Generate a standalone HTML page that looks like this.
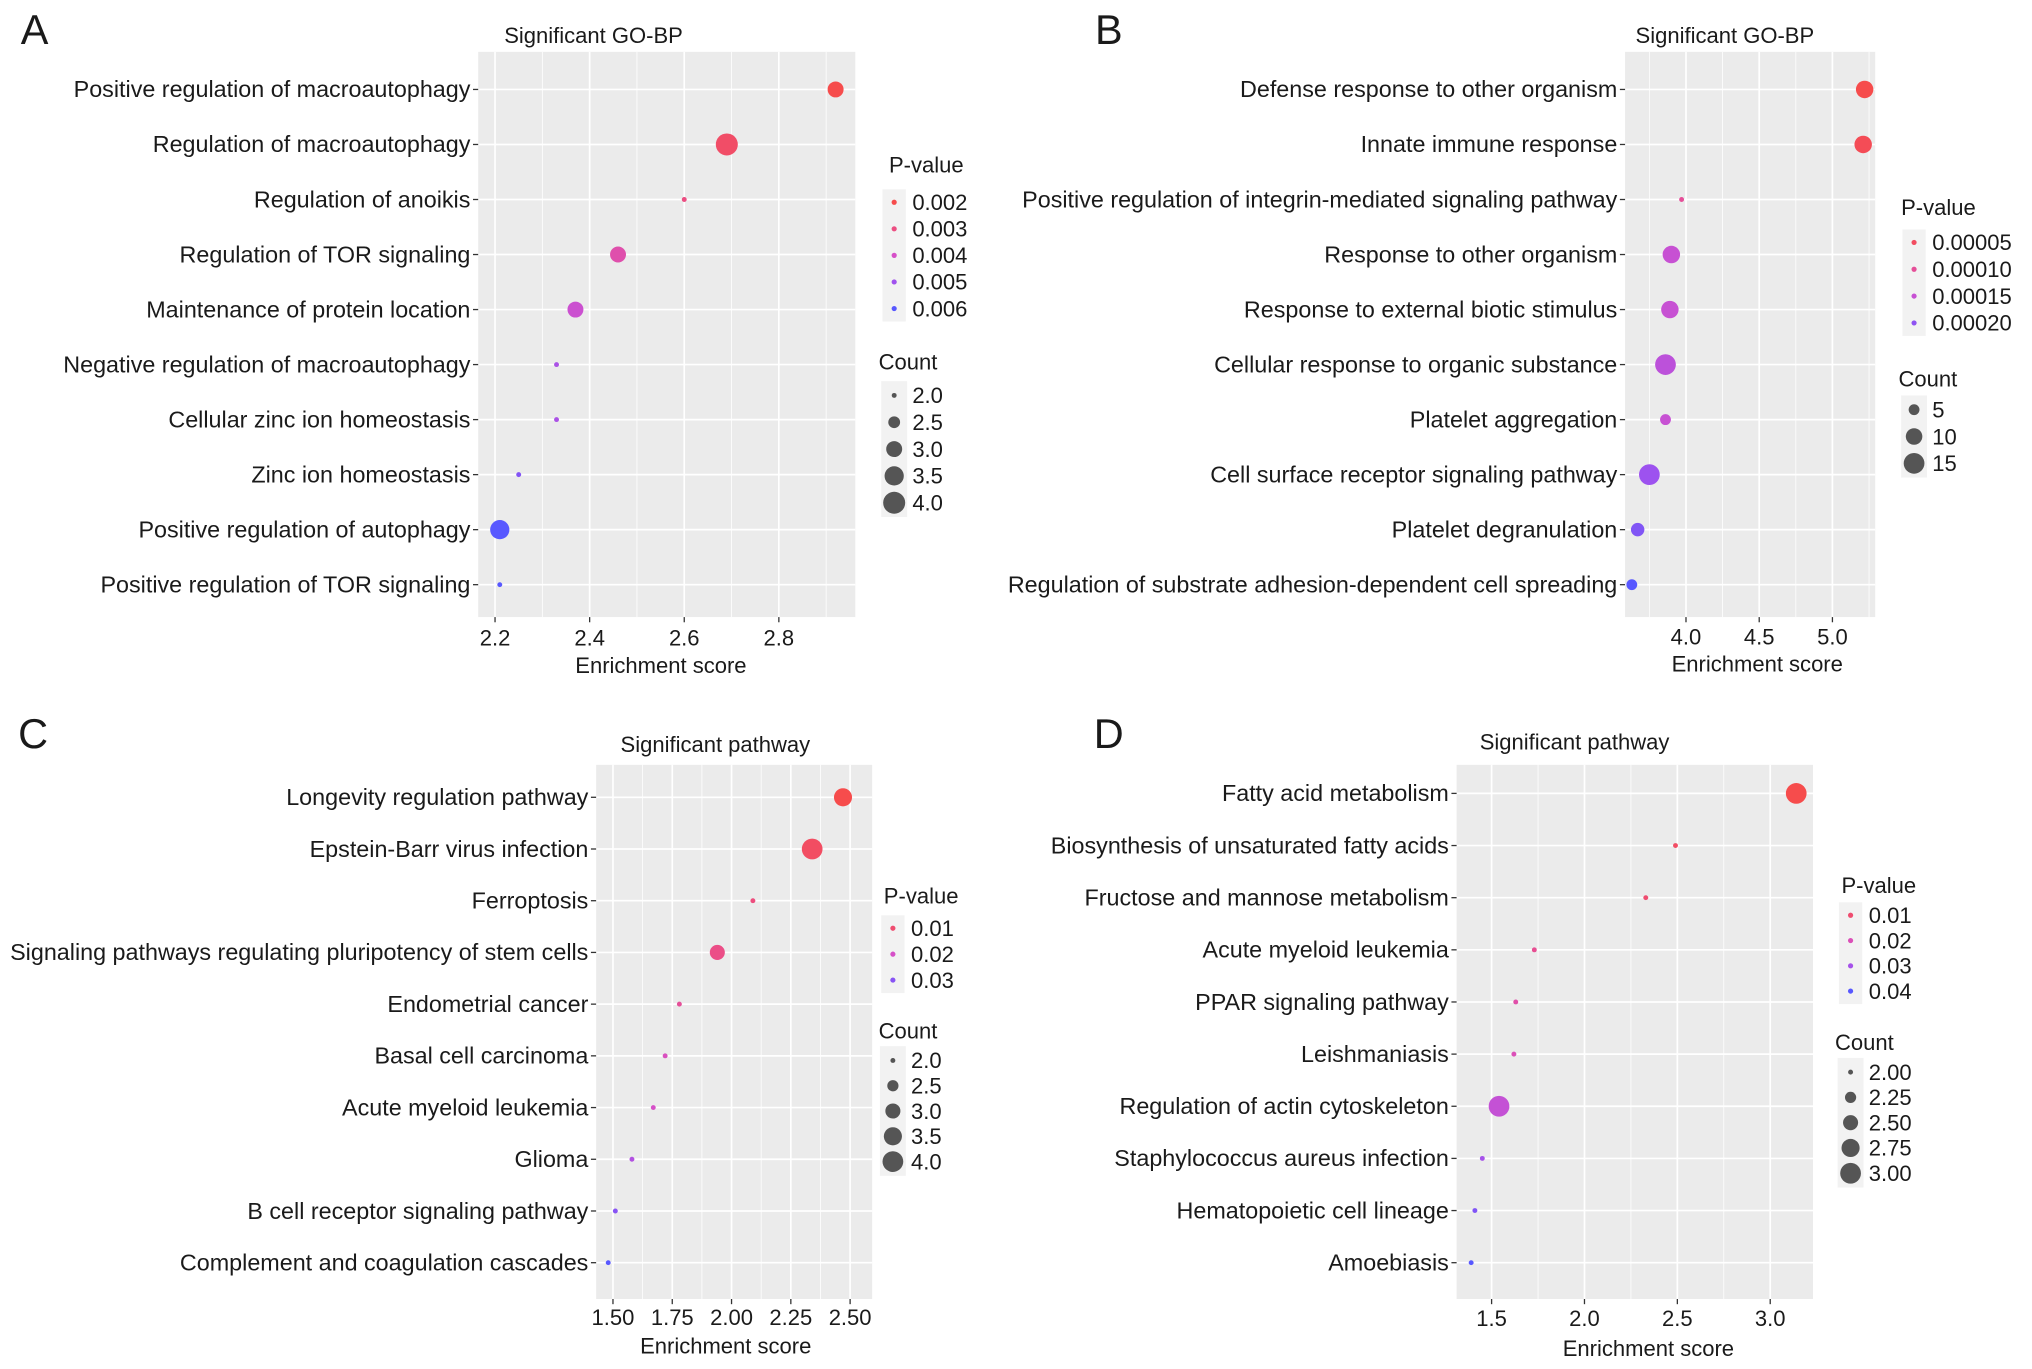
<!DOCTYPE html>
<html><head><meta charset="utf-8"><style>
html,body{margin:0;padding:0;background:#fff}
svg{display:block}
text{font-family:"Liberation Sans",Arial,sans-serif;fill:#1a1a1a}
</style></head><body>
<svg id="fig" width="2032" height="1369" viewBox="0 0 1568 1056" preserveAspectRatio="none" xmlns="http://www.w3.org/2000/svg"></svg>
<script>
// Panel A data
const aTerms=["Positive regulation of macroautophagy","Regulation of macroautophagy","Regulation of anoikis","Regulation of TOR signaling","Maintenance of protein location","Negative regulation of macroautophagy","Cellular zinc ion homeostasis","Zinc ion homeostasis","Positive regulation of autophagy","Positive regulation of TOR signaling"];
const aScore=[2.92,2.69,2.60,2.46,2.37,2.33,2.33,2.25,2.21,2.21];
const aCount=[3,4,2,3,3,2,2,2,3.5,2];
const aP=[0.0018,0.0025,0.003,0.0036,0.0042,0.0048,0.0048,0.0054,0.0062,0.006];
const aXTicks=[2.2,2.4,2.6,2.8];
const aPLeg=["0.002","0.003","0.004","0.005","0.006"];
const aCLeg=["2.0","2.5","3.0","3.5","4.0"];
// Panel B data
const bTerms=["Defense response to other organism","Innate immune response","Positive regulation of integrin-mediated signaling pathway","Response to other organism","Response to external biotic stimulus","Cellular response to organic substance","Platelet aggregation","Cell surface receptor signaling pathway","Platelet degranulation","Regulation of substrate adhesion-dependent cell spreading"];
const bScore=[5.22,5.21,3.97,3.90,3.89,3.86,3.86,3.75,3.67,3.63];
const bCount=[11,11,2,11,11,15,5,15,7,5];
const bP=[0.00003,0.00004,0.0001,0.00015,0.00015,0.00016,0.00015,0.00019,0.00021,0.00024];
const bXTicks=[4.0,4.5,5.0];
const bPLeg=["0.00005","0.00010","0.00015","0.00020"];
const bCLeg=["5","10","15"];
// Panel C data
const cTerms=["Longevity regulation pathway","Epstein-Barr virus infection","Ferroptosis","Signaling pathways regulating pluripotency of stem cells","Endometrial cancer","Basal cell carcinoma","Acute myeloid leukemia","Glioma","B cell receptor signaling pathway","Complement and coagulation cascades"];
const cScore=[2.47,2.34,2.09,1.94,1.78,1.72,1.67,1.58,1.51,1.48];
const cCount=[3.5,4,2,3,2,2,2,2,2,2];
const cP=[0.005,0.008,0.012,0.013,0.015,0.019,0.02,0.025,0.03,0.035];
const cXTicks=[1.50,1.75,2.00,2.25,2.50];
const cPLeg=["0.01","0.02","0.03"];
const cCLeg=["2.0","2.5","3.0","3.5","4.0"];
// Panel D data
const dTerms=["Fatty acid metabolism","Biosynthesis of unsaturated fatty acids","Fructose and mannose metabolism","Acute myeloid leukemia","PPAR signaling pathway","Leishmaniasis","Regulation of actin cytoskeleton","Staphylococcus aureus infection","Hematopoietic cell lineage","Amoebiasis"];
const dScore=[3.14,2.49,2.33,1.73,1.63,1.62,1.54,1.45,1.41,1.39];
const dCount=[3,2,2,2,2,2,3,2,2,2];
const dP=[0.004,0.008,0.01,0.015,0.018,0.02,0.025,0.03,0.035,0.04];
const dXTicks=[1.5,2.0,2.5,3.0];
const dPLeg=["0.01","0.02","0.03","0.04"];
const dCLeg=["2.00","2.25","2.50","2.75","3.00"];

const NS="http://www.w3.org/2000/svg";
const svg=document.getElementById('fig');
function mk(tag,attrs,parent){const e=document.createElementNS(NS,tag);for(const k in attrs)e.setAttribute(k,attrs[k]);(parent||svg).appendChild(e);return e;}
const stops=[[246,76,76],[236,78,130],[214,80,200],[160,82,238],[88,88,255]];
function col(t){t=Math.max(0,Math.min(1,t));const s=t*(stops.length-1);const i=Math.min(stops.length-2,Math.floor(s));const f=s-i;const a=stops[i],b=stops[i+1];return `rgb(${Math.round(a[0]+(b[0]-a[0])*f)},${Math.round(a[1]+(b[1]-a[1])*f)},${Math.round(a[2]+(b[2]-a[2])*f)})`;}

function panel(cfg){
  const g=mk('g',{});
  
  
  const L=mk('text',{x:cfg.letter[0],y:cfg.letter[1],'font-size':32},g);L.textContent=cfg.letterText;
  
  const p=cfg.plot;
  const bg=mk('rect',{x:p.x0,y:p.y0,width:p.x1-p.x0,height:p.y1-p.y0,fill:'#EBEBEB'},g);
  
  const xs=v=>cfg.xpx[0]+(v-cfg.xval[0])/(cfg.xval[1]-cfg.xval[0])*(cfg.xpx[1]-cfg.xpx[0]);
  const ys=i=>cfg.ypx[0]+i*(cfg.ypx[1]-cfg.ypx[0])/(cfg.terms.length-1);
  const tk=cfg.xticks,step=tk[1]-tk[0];
  for(let v=tk[0]-step/2;v<=tk[tk.length-1]+step;v+=step){const X=xs(v);if(X>p.x0&&X<p.x1)mk('line',{x1:X,x2:X,y1:p.y0,y2:p.y1,stroke:'#fff','stroke-width':0.6},g);}
  tk.forEach((v,k)=>{const X=xs(v);mk('line',{x1:X,x2:X,y1:p.y0,y2:p.y1,stroke:'#fff','stroke-width':1.3},g);
    mk('line',{x1:X,x2:X,y1:p.y1,y2:p.y1+4,stroke:'#333','stroke-width':1},g);
    const t=mk('text',{x:X,y:cfg.tickY,'font-size':17,'text-anchor':'middle',fill:'#333'},g);t.textContent=cfg.tickLabels?cfg.tickLabels[k]:String(v);
    });
  cfg.terms.forEach((term,i)=>{const Y=ys(i);
    mk('line',{x1:p.x0,x2:p.x1,y1:Y,y2:Y,stroke:'#fff','stroke-width':1.3},g);
    mk('line',{x1:p.x0-4,x2:p.x0,y1:Y,y2:Y,stroke:'#333','stroke-width':1},g);
    const t=mk('text',{x:p.x0-6,y:Y+6,'font-size':18,'text-anchor':'end',fill:'#222'},g);t.textContent=term;
    });
  const cl=cfg.cMin,ch=cfg.cMax;
  const rad=c=>Math.sqrt(3.6+Math.max(0,(c-cl)/(ch-cl))*(cfg.rmax*cfg.rmax-3.6));
  const pl=cfg.pRange[0],ph=cfg.pRange[1];
  cfg.terms.forEach((term,i)=>{
    const c=mk('circle',{cx:xs(cfg.score[i]),cy:ys(i),r:rad(cfg.count[i]),fill:col((cfg.pv[i]-pl)/(ph-pl))},g);
    });
  const tt=mk('text',{x:cfg.title[0],y:cfg.title[1],'font-size':17,'text-anchor':'middle',fill:'#222'},g);tt.textContent=cfg.titleText;
  
  const xt=mk('text',{x:cfg.xtitle[0],y:cfg.xtitle[1],'font-size':17,'text-anchor':'middle',fill:'#222'},g);xt.textContent='Enrichment score';
  
  const lg=cfg.leg;
  const pt=mk('text',{x:lg.px,y:lg.py,'font-size':17,fill:'#222'},g);pt.textContent='P-value';
  
  const n=cfg.pLeg.length;
  mk('rect',{x:lg.kx-9,y:lg.py0-10,width:18,height:(n-1)*lg.pstep+20,fill:'#F2F2F2'},g);
  cfg.pLeg.forEach((s,k)=>{const Y=lg.py0+k*lg.pstep;
    const c=mk('circle',{cx:lg.kx,cy:Y,r:2,fill:col((parseFloat(s)-pl)/(ph-pl))},g);
    const t=mk('text',{x:lg.kx+14,y:Y+6,'font-size':17,fill:'#222'},g);t.textContent=s;});
  const ct=mk('text',{x:lg.cx,y:lg.cy,'font-size':17,fill:'#222'},g);ct.textContent='Count';
  
  const m=cfg.cLeg.length;
  mk('rect',{x:lg.kx2-10,y:lg.cy0-11,width:20,height:(m-1)*lg.cstep+22,fill:'#F2F2F2'},g);
  cfg.cLeg.forEach((s,k)=>{const Y=lg.cy0+k*lg.cstep;
    const c=mk('circle',{cx:lg.kx2,cy:Y,r:rad(parseFloat(s)),fill:'#555'},g);
    const t=mk('text',{x:lg.kx2+14,y:Y+6,'font-size':17,fill:'#222'},g);t.textContent=s;});
}
panel({name:'panel-a',letterText:'A',letter:[16,34],plot:{x0:369,x1:660,y0:40,y1:476},xval:[2.2,2.8],xpx:[382,601],ypx:[69,451],tickY:498,
  terms:aTerms,score:aScore,count:aCount,pv:aP,xticks:aXTicks,pRange:[0.002,0.006],pLeg:aPLeg,cLeg:aCLeg,cMin:2,cMax:4,rmax:8.5,
  title:[458,33],titleText:'Significant GO-BP',xtitle:[510,519],
  leg:{px:686,py:133,kx:690,py0:156,pstep:20.5,cx:678,cy:285,kx2:690,cy0:305,cstep:20.7}});
panel({name:'panel-b',letterText:'B',letter:[845,34],plot:{x0:1254,x1:1447,y0:40,y1:476},xval:[4.0,5.0],xpx:[1301,1414],ypx:[69,451],tickY:497,
  terms:bTerms,score:bScore,count:bCount,pv:bP,xticks:bXTicks,tickLabels:["4.0","4.5","5.0"],pRange:[0.00003,0.00024],pLeg:bPLeg,cLeg:bCLeg,cMin:2,cMax:15,rmax:8,
  title:[1331,33],titleText:'Significant GO-BP',xtitle:[1356,518],
  leg:{px:1467,py:166,kx:1477,py0:187,pstep:20.7,cx:1465,cy:298,kx2:1477,cy0:316,cstep:20.7}});
panel({name:'panel-c',letterText:'C',letter:[14,577],plot:{x0:460,x1:673,y0:590,y1:1002},xval:[1.5,2.5],xpx:[473,656],ypx:[615,974],tickY:1022,
  terms:cTerms,score:cScore,count:cCount,pv:cP,xticks:cXTicks,tickLabels:["1.50","1.75","2.00","2.25","2.50"],pRange:[0.005,0.035],pLeg:cPLeg,cLeg:cCLeg,cMin:2,cMax:4,rmax:8,
  title:[552,580],titleText:'Significant pathway',xtitle:[560,1044],
  leg:{px:682,py:697,kx:689,py0:716,pstep:20,cx:678,cy:801,kx2:689,cy0:818,cstep:19.5}});
panel({name:'panel-d',letterText:'D',letter:[844,577],plot:{x0:1124,x1:1399,y0:590,y1:1002},xval:[1.5,3.0],xpx:[1151,1366],ypx:[612,974],tickY:1023,
  terms:dTerms,score:dScore,count:dCount,pv:dP,xticks:dXTicks,tickLabels:["1.5","2.0","2.5","3.0"],pRange:[0.004,0.04],pLeg:dPLeg,cLeg:dCLeg,cMin:2,cMax:3,rmax:8,
  title:[1215,578],titleText:'Significant pathway',xtitle:[1272,1046],
  leg:{px:1421,py:689,kx:1428,py0:706,pstep:19.5,cx:1416,cy:810,kx2:1428,cy0:827,cstep:19.5}});
</script>
</body></html>
